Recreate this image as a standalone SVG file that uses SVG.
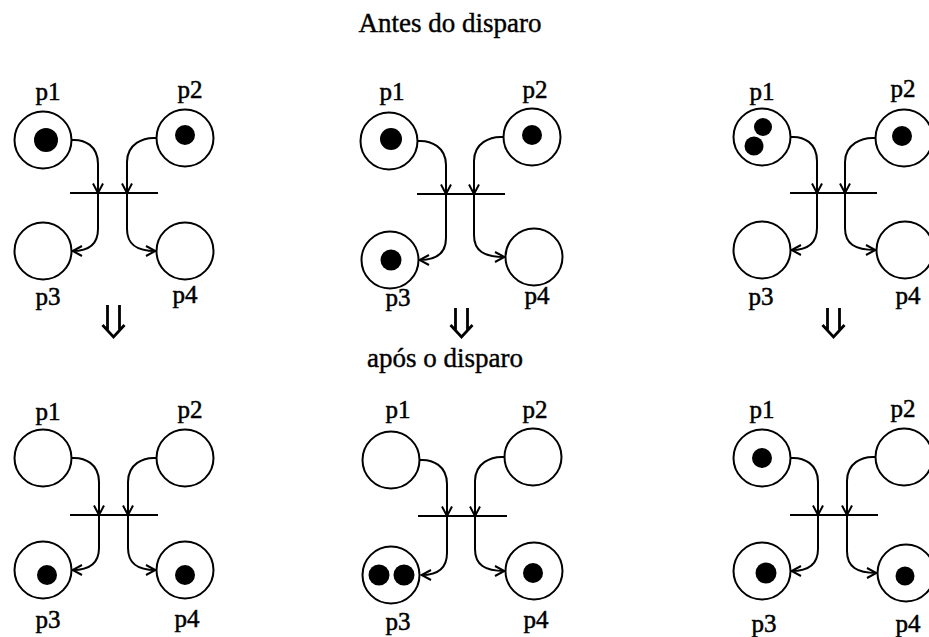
<svg xmlns="http://www.w3.org/2000/svg" width="929" height="637" viewBox="0 0 929 637">
  <style>
    .place { fill: #fff; stroke: #000; stroke-width: 2; }
    .token { fill: #000; }
    .bar { stroke: #000; stroke-width: 2; }
    .arc { fill: none; stroke: #000; stroke-width: 2; }
    .lbl { font-family: "Liberation Serif", "Times New Roman", serif; font-size: 25px; fill: #000; stroke: #000; stroke-width: 0.5; text-anchor: middle; }
    .title { font-family: "Liberation Serif", "Times New Roman", serif; font-size: 27px; fill: #000; stroke: #000; stroke-width: 0.4; text-anchor: middle; }
    .step { fill: none; stroke: #000; stroke-width: 2.8; stroke-linejoin: miter; }
  </style>
  <defs>
    <marker id="head" viewBox="0 0 12 12" refX="10.5" refY="6" markerWidth="12" markerHeight="12" markerUnits="userSpaceOnUse" orient="auto">
      <path d="M1,1 L10.5,6 L1,11" fill="none" stroke="#000" stroke-width="2"/>
    </marker>
  </defs>

  <rect width="929" height="637" fill="#fff"/>

  <text class="title" x="450" y="32">Antes do disparo</text>
  <text class="title" x="445" y="367">após o disparo</text>

  <!-- firing steps (double down arrows) -->
  <g id="steps">
    <path class="step" d="M107.5,305 V330.5 M119.5,305 V330.5 M102.5,325 L113.5,337 L124.5,325"/>
    <path class="step" d="M455.5,308 V330.5 M467.5,308 V330.5 M450.5,325 L461.5,337 L472.5,325"/>
    <path class="step" d="M827.5,308 V330.5 M839.5,308 V330.5 M822.5,325 L833.5,337 L844.5,325"/>
  </g>

  <!-- ===== before firing: net 1 ===== -->
  <g id="net-a-before">
    <g id="a1-p1"><circle class="place" cx="43" cy="140" r="28.5"/><circle class="token" cx="46" cy="140" r="12"/><text class="lbl" x="48" y="100">p1</text></g>
    <g id="a1-p2"><circle class="place" cx="185" cy="138" r="28.5"/><circle class="token" cx="185" cy="135" r="10"/><text class="lbl" x="190" y="98">p2</text></g>
    <g id="a1-p3"><circle class="place" cx="43" cy="251" r="28.5"/><text class="lbl" x="48" y="305">p3</text></g>
    <g id="a1-p4"><circle class="place" cx="185" cy="251" r="28.5"/><text class="lbl" x="185" y="303">p4</text></g>
    <g id="a1-t"><line class="bar" x1="70" y1="193" x2="158" y2="193"/></g>
    <g id="a1-arcs">
      <path class="arc" marker-end="url(#head)" d="M71.5,140 C85,139 98,146 98,164 L98,193"/>
      <path class="arc" marker-end="url(#head)" d="M156.5,138 C143,137 127,144 127,162 L127,193"/>
      <path class="arc" marker-end="url(#head)" d="M98,193 L98,229 C98,245 88,251 72.5,251"/>
      <path class="arc" marker-end="url(#head)" d="M127,193 L127,229 C127,245 137,251 155.5,251"/>
    </g>
  </g>

  <!-- ===== before firing: net 2 ===== -->
  <g id="net-b-before">
    <g id="b1-p1"><circle class="place" cx="389" cy="141" r="28.5"/><circle class="token" cx="391" cy="139" r="11"/><text class="lbl" x="392" y="100">p1</text></g>
    <g id="b1-p2"><circle class="place" cx="532" cy="137" r="28.5"/><circle class="token" cx="532" cy="135" r="10"/><text class="lbl" x="535" y="98">p2</text></g>
    <g id="b1-p3"><circle class="place" cx="390" cy="260" r="28.5"/><circle class="token" cx="391" cy="260" r="10.5"/><text class="lbl" x="398" y="306">p3</text></g>
    <g id="b1-p4"><circle class="place" cx="534" cy="257" r="28.5"/><text class="lbl" x="537" y="304">p4</text></g>
    <g id="b1-t"><line class="bar" x1="417" y1="194" x2="505" y2="194"/></g>
    <g id="b1-arcs">
      <path class="arc" marker-end="url(#head)" d="M417.5,141 C431,140 446,147 446,165 L446,194"/>
      <path class="arc" marker-end="url(#head)" d="M503.5,137 C490,136 474,143 474,161 L474,194"/>
      <path class="arc" marker-end="url(#head)" d="M446,194 L446,238 C446,254 436,260 419.5,260"/>
      <path class="arc" marker-end="url(#head)" d="M474,194 L474,235 C474,251 484,257 504.5,257"/>
    </g>
  </g>

  <!-- ===== before firing: net 3 ===== -->
  <g id="net-c-before">
    <g id="c1-p1"><circle class="place" cx="762" cy="137" r="28.5"/><circle class="token" cx="763" cy="127" r="9"/><circle class="token" cx="754" cy="146" r="9.5"/><text class="lbl" x="762" y="100">p1</text></g>
    <g id="c1-p2"><circle class="place" cx="904" cy="138" r="28.5"/><circle class="token" cx="902" cy="136" r="10"/><text class="lbl" x="903" y="97">p2</text></g>
    <g id="c1-p3"><circle class="place" cx="762" cy="250" r="28.5"/><text class="lbl" x="761" y="305">p3</text></g>
    <g id="c1-p4"><circle class="place" cx="905" cy="250" r="28.5"/><text class="lbl" x="908" y="304">p4</text></g>
    <g id="c1-t"><line class="bar" x1="790" y1="193" x2="877" y2="193"/></g>
    <g id="c1-arcs">
      <path class="arc" marker-end="url(#head)" d="M790.5,137 C804,136 817,143 817,161 L817,193"/>
      <path class="arc" marker-end="url(#head)" d="M875.5,138 C862,137 845,144 845,162 L845,193"/>
      <path class="arc" marker-end="url(#head)" d="M817,193 L817,228 C817,244 807,250 791.5,250"/>
      <path class="arc" marker-end="url(#head)" d="M845,193 L845,228 C845,244 855,250 875.5,250"/>
    </g>
  </g>

  <!-- ===== after firing: net 1 ===== -->
  <g id="net-a-after">
    <g id="a2-p1"><circle class="place" cx="43" cy="458" r="28.5"/><text class="lbl" x="48" y="420">p1</text></g>
    <g id="a2-p2"><circle class="place" cx="185" cy="458" r="28.5"/><text class="lbl" x="190" y="418">p2</text></g>
    <g id="a2-p3"><circle class="place" cx="43" cy="570" r="28.5"/><circle class="token" cx="47" cy="575" r="10"/><text class="lbl" x="48" y="628">p3</text></g>
    <g id="a2-p4"><circle class="place" cx="185" cy="570" r="28.5"/><circle class="token" cx="185" cy="575" r="10"/><text class="lbl" x="187" y="627">p4</text></g>
    <g id="a2-t"><line class="bar" x1="70" y1="515" x2="158" y2="515"/></g>
    <g id="a2-arcs">
      <path class="arc" marker-end="url(#head)" d="M71.5,458 C85,457 99,464 99,482 L99,515"/>
      <path class="arc" marker-end="url(#head)" d="M156.5,458 C143,457 128,464 128,482 L128,515"/>
      <path class="arc" marker-end="url(#head)" d="M99,515 L99,548 C99,564 89,570 72.5,570"/>
      <path class="arc" marker-end="url(#head)" d="M128,515 L128,548 C128,564 138,570 155.5,570"/>
    </g>
  </g>

  <!-- ===== after firing: net 2 ===== -->
  <g id="net-b-after">
    <g id="b2-p1"><circle class="place" cx="391" cy="460" r="28.5"/><text class="lbl" x="398" y="418">p1</text></g>
    <g id="b2-p2"><circle class="place" cx="533" cy="457" r="28.5"/><text class="lbl" x="535" y="418">p2</text></g>
    <g id="b2-p3"><circle class="place" cx="391" cy="575" r="28.5"/><circle class="token" cx="379" cy="575" r="10.5"/><circle class="token" cx="404" cy="575" r="10.5"/><text class="lbl" x="398" y="630">p3</text></g>
    <g id="b2-p4"><circle class="place" cx="534" cy="571" r="28.5"/><circle class="token" cx="533" cy="573" r="10"/><text class="lbl" x="536" y="628">p4</text></g>
    <g id="b2-t"><line class="bar" x1="418" y1="516" x2="507" y2="516"/></g>
    <g id="b2-arcs">
      <path class="arc" marker-end="url(#head)" d="M419.5,460 C433,459 447,466 447,484 L447,516"/>
      <path class="arc" marker-end="url(#head)" d="M504.5,457 C491,456 475,463 475,481 L475,516"/>
      <path class="arc" marker-end="url(#head)" d="M447,516 L447,553 C447,569 437,575 421.5,575"/>
      <path class="arc" marker-end="url(#head)" d="M475,516 L475,549 C475,565 485,571 504.5,571"/>
    </g>
  </g>

  <!-- ===== after firing: net 3 ===== -->
  <g id="net-c-after">
    <g id="c2-p1"><circle class="place" cx="762" cy="458" r="28.5"/><circle class="token" cx="762" cy="458" r="10"/><text class="lbl" x="762" y="418">p1</text></g>
    <g id="c2-p2"><circle class="place" cx="904" cy="457" r="28.5"/><text class="lbl" x="903" y="417">p2</text></g>
    <g id="c2-p3"><circle class="place" cx="762" cy="571" r="28.5"/><circle class="token" cx="766" cy="573" r="10.5"/><text class="lbl" x="764" y="632">p3</text></g>
    <g id="c2-p4"><circle class="place" cx="906" cy="573" r="28.5"/><circle class="token" cx="905" cy="576" r="9.5"/><text class="lbl" x="908" y="632">p4</text></g>
    <g id="c2-t"><line class="bar" x1="790" y1="515" x2="878" y2="515"/></g>
    <g id="c2-arcs">
      <path class="arc" marker-end="url(#head)" d="M790.5,458 C804,457 818,464 818,482 L818,515"/>
      <path class="arc" marker-end="url(#head)" d="M875.5,457 C862,456 847,463 847,481 L847,515"/>
      <path class="arc" marker-end="url(#head)" d="M818,515 L818,549 C818,565 808,571 791.5,571"/>
      <path class="arc" marker-end="url(#head)" d="M847,515 L847,551 C847,567 857,573 876.5,573"/>
    </g>
  </g>
</svg>
